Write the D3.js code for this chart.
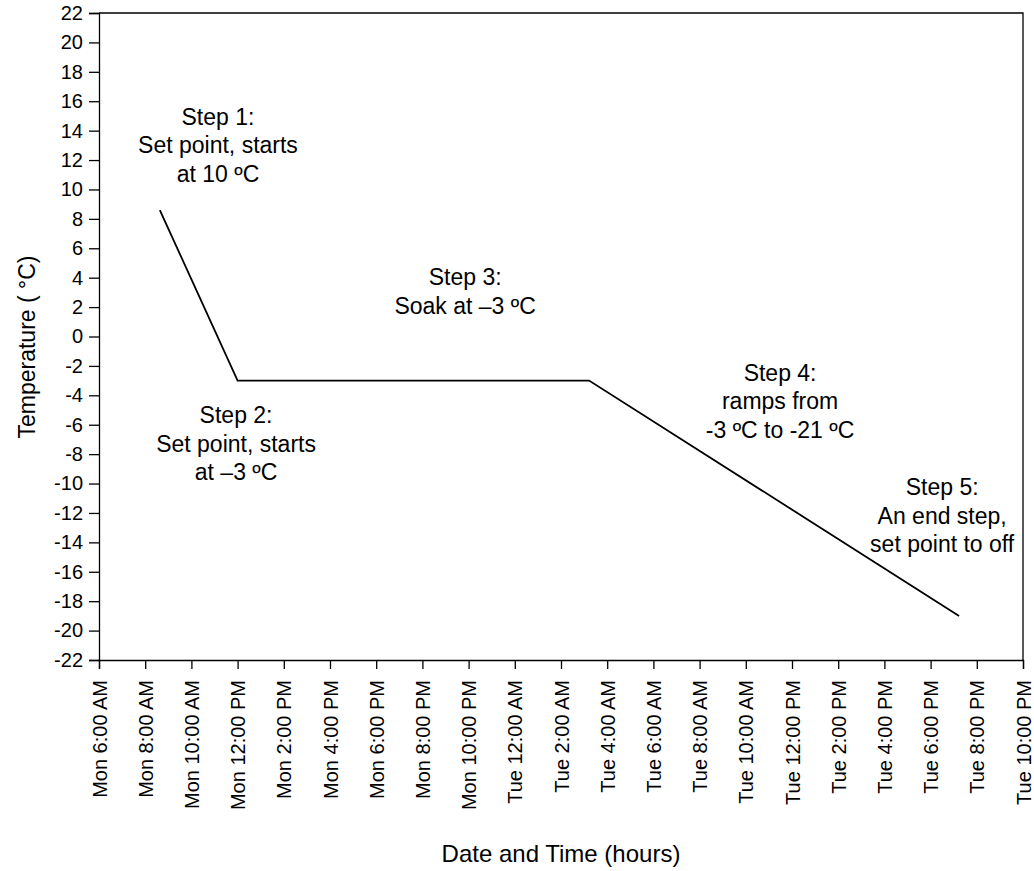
<!DOCTYPE html>
<html>
<head>
<meta charset="utf-8">
<style>
  body { margin: 0; background: #fff; }
  text { font-family: Arial, "Liberation Sans", sans-serif; fill: #000; }
</style>
</head>
<body>
<div id="chart"></div>
<script src="https://d3js.org/d3.v7.min.js"></script>
<script>
// profile points (time, temperature)
var times = ["2024-01-01T08:38", "2024-01-01T12:00", "2024-01-02T03:13", "2024-01-02T19:14"];
var temps = [8.6, -3, -3, -19];

var xStart = "2024-01-01T06:00", xEnd = "2024-01-02T22:00";
var yTicks = d3.range(-22, 23, 2);

var notes = [
  { t: "2024-01-01T11:09", v: 14.4, lines: ["Step 1:", "Set point, starts", "at 10 \u00baC"] },
  { t: "2024-01-01T11:56", v: -5.9, lines: ["Step 2:", "Set point, starts", "at \u20133 \u00baC"] },
  { t: "2024-01-01T21:51", v: 3.5, lines: ["Step 3:", "Soak at \u20133 \u00baC"] },
  { t: "2024-01-02T11:29", v: -3.0, lines: ["Step 4:", "ramps from", "-3 \u00baC to -21 \u00baC"] },
  { t: "2024-01-02T18:30", v: -10.8, lines: ["Step 5:", "An end step,", "set point to off"] }
];

var margin = {top: 13, right: 11, bottom: 211, left: 99},
    width = 1034 - margin.left - margin.right,
    height = 871 - margin.top - margin.bottom;

var parse = d3.timeParse("%Y-%m-%dT%H:%M");

var svg = d3.select("#chart").append("svg")
    .attr("width", 1034).attr("height", 871)
  .append("g")
    .attr("transform", "translate(" + margin.left + "," + margin.top + ")");

var x = d3.scaleTime().domain([parse(xStart), parse(xEnd)]).range([0, width]);
var y = d3.scaleLinear().domain([-22, 22]).range([height, 0]);

// frame
svg.append("path")
  .attr("d", "M0,0H" + width + "V" + height)
  .attr("fill", "none").attr("stroke", "#000").attr("stroke-width", 1.3);

// y axis
var yAxis = svg.append("g")
  .call(d3.axisLeft(y).tickValues(yTicks).tickSize(10).tickPadding(6)
    .tickFormat(function (d) { return String(d); }));
yAxis.selectAll("text").style("font-size", "20px");
yAxis.selectAll("line, path").attr("stroke", "#000").attr("stroke-width", 1.3);

// x axis
var xAxis = svg.append("g")
  .attr("transform", "translate(0," + height + ")")
  .call(d3.axisBottom(x)
    .ticks(d3.timeHour.every(2))
    .tickFormat(d3.timeFormat("%a %-I:%M %p"))
    .tickSize(9));
xAxis.selectAll("line, path").attr("stroke", "#000").attr("stroke-width", 1.3);
xAxis.selectAll("text")
  .style("font-size", "20px")
  .attr("text-anchor", "end")
  .attr("transform", "rotate(-90)")
  .attr("x", -20).attr("y", 0).attr("dy", "0.35em");

// profile line
var pts = times.map(function (t, i) { return [parse(t), temps[i]]; });
svg.append("path")
  .datum(pts)
  .attr("fill", "none").attr("stroke", "#000").attr("stroke-width", 1.8)
  .attr("d", d3.line().x(function (d) { return x(d[0]); }).y(function (d) { return y(d[1]); }));

// annotations
notes.forEach(function (n) {
  var t = svg.append("text")
    .attr("text-anchor", "middle")
    .style("font-size", "23px")
    .attr("transform", "translate(" + x(parse(n.t)) + "," + y(n.v) + ")");
  n.lines.forEach(function (l, i) {
    t.append("tspan").attr("x", 0).attr("dy", i === 0 ? 0 : 28.5).text(l);
  });
});

// axis titles
svg.append("text")
  .attr("text-anchor", "middle")
  .style("font-size", "24px")
  .attr("x", width / 2).attr("y", 849)
  .text("Date and Time (hours)");

svg.append("text")
  .attr("text-anchor", "middle")
  .style("font-size", "23px")
  .attr("transform", "translate(" + (-64) + "," + 334 + ") rotate(-90)")
  .text("Temperature ( \u00b0C)");
</script>
</body>
</html>
